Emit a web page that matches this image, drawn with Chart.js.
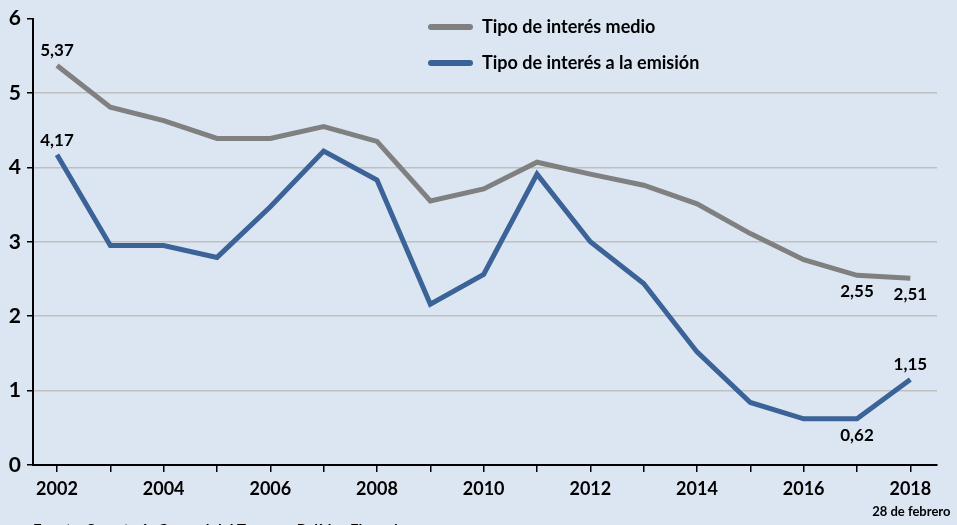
<!DOCTYPE html>
<html>
<head>
<meta charset="utf-8">
<script src="https://cdn.jsdelivr.net/npm/chart.js@4.4.1/dist/chart.umd.min.js"></script>
<style>
  html, body { margin: 0; padding: 0; background: #dce6f2; }
</style>
</head>
<body>
<canvas id="myChart" width="957" height="525"></canvas>
<script>
// data
const years = [2002, 2003, 2004, 2005, 2006, 2007, 2008, 2009, 2010, 2011, 2012, 2013, 2014, 2015, 2016, 2017, 2018]
const tipoMedio = [5.37, 4.81, 4.63, 4.39, 4.39, 4.55, 4.35, 3.55, 3.71, 4.07, 3.91, 3.76, 3.51, 3.11, 2.76, 2.55, 2.51]
const tipoEmision = [4.17, 2.95, 2.95, 2.79, 3.47, 4.22, 3.83, 2.16, 2.56, 3.91, 3.00, 2.44, 1.52, 0.84, 0.62, 0.62, 1.15]
const yTicks = [0, 1, 2, 3, 4, 5, 6]
const xLabelYears = [2002, 2004, 2006, 2008, 2010, 2012, 2014, 2016, 2018]
const seriesNames = ['Tipo de interés medio', 'Tipo de interés a la emisión']
const lastNote = '28 de febrero'
const sourceText = 'Fuente: Secretaría General del Tesoro y Política Financiera.'

// which points carry a value label, and where
const medioLabels = [[0, 'above'], [15, 'below'], [16, 'below']]
const emisionLabels = [[0, 'above'], [15, 'below'], [16, 'above']]

const GREY = 'rgb(128, 128, 128)'
const BLUE = 'rgb(59, 99, 151)'
const FONT = 'Lato, "Open Sans", sans-serif'

Chart.defaults.font.family = FONT
Chart.defaults.color = '#000'

const fmt = (v) => v.toFixed(2).replace('.', ',')

// draws value labels, the legend and the extra texts
const extrasPlugin = {
    id: 'extras',
    afterDatasetsDraw(chart) {
        const ctx = chart.ctx
        ctx.save()
        ctx.fillStyle = '#000'
        ctx.font = 'bold 17px ' + FONT
        ctx.textAlign = 'center'

        const drawLabels = (datasetIndex, list) => {
            const meta = chart.getDatasetMeta(datasetIndex)
            const data = chart.data.datasets[datasetIndex].data
            for (const [i, where] of list) {
                const pt = meta.data[i]
                if (where === 'above') {
                    ctx.textBaseline = 'bottom'
                    ctx.fillText(fmt(data[i].y), pt.x, pt.y - 6)
                } else {
                    ctx.textBaseline = 'top'
                    ctx.fillText(fmt(data[i].y), pt.x, pt.y + 8)
                }
            }
        }
        drawLabels(0, medioLabels)
        drawLabels(1, emisionLabels)

        // legend
        const colors = [GREY, BLUE]
        const rows = [27, 63]
        ctx.font = 'bold 18px ' + FONT
        ctx.textAlign = 'left'
        ctx.textBaseline = 'middle'
        ctx.lineCap = 'round'
        ctx.lineWidth = 6
        for (let i = 0; i < seriesNames.length; i++) {
            ctx.strokeStyle = colors[i]
            ctx.beginPath()
            ctx.moveTo(431, rows[i])
            ctx.lineTo(470, rows[i])
            ctx.stroke()
            ctx.fillText(seriesNames[i], 482, rows[i])
        }

        // note under the last year
        const xScale = chart.scales.x
        ctx.font = 'bold 13px ' + FONT
        ctx.textAlign = 'center'
        ctx.textBaseline = 'top'
        ctx.fillText(lastNote, xScale.getPixelForValue(years[years.length - 1]) + 1, 505)

        // source line, cut by the bottom edge
        ctx.font = 'bold 15px ' + FONT
        ctx.textAlign = 'left'
        ctx.fillText(sourceText, 33, 523)
        ctx.restore()
    }
}

const ctx = document.getElementById('myChart').getContext('2d')
const myChart = new Chart(ctx, {
    type: 'line',
    data: {
        datasets: [{
            label: seriesNames[0],
            data: years.map((y, i) => ({ x: y, y: tipoMedio[i] })),
            borderColor: GREY,
            backgroundColor: GREY,
            borderWidth: 5,
            pointRadius: 0,
            tension: 0,
            order: 1
        }, {
            label: seriesNames[1],
            data: years.map((y, i) => ({ x: y, y: tipoEmision[i] })),
            borderColor: BLUE,
            backgroundColor: BLUE,
            borderWidth: 5,
            pointRadius: 0,
            tension: 0,
            order: 0
        }]
    },
    options: {
        responsive: false,
        animation: false,
        layout: { padding: { top: 15, right: 20, left: 0, bottom: 0 } },
        plugins: {
            legend: { display: false },
            tooltip: { enabled: false }
        },
        scales: {
            x: {
                type: 'linear',
                min: 2001.55,
                max: 2018.5,
                afterBuildTicks: (scale) => {
                    scale.ticks = years.map((v) => ({ value: v }))
                },
                afterFit: (scale) => { scale.height = 60 },
                border: { color: '#000', width: 2 },
                grid: {
                    drawOnChartArea: false,
                    tickColor: '#000',
                    tickLength: 7,
                    lineWidth: 1.5
                },
                ticks: {
                    autoSkip: false,
                    maxRotation: 0,
                    padding: 6,
                    font: { size: 18, weight: 'bold' },
                    callback: (value) => xLabelYears.includes(value) ? String(value) : ''
                }
            },
            y: {
                min: 0,
                max: 6,
                afterBuildTicks: (scale) => {
                    scale.ticks = yTicks.map((v) => ({ value: v }))
                },
                afterFit: (scale) => { scale.width = 33 },
                border: { color: '#000', width: 2 },
                grid: {
                    color: (c) => (c.tick && c.tick.value > 0 && c.tick.value < 6) ? 'rgb(191, 191, 191)' : 'rgba(0,0,0,0)',
                    lineWidth: 1.5,
                    tickColor: '#000',
                    tickLength: 6
                },
                ticks: {
                    padding: 6,
                    font: { size: 21, weight: 'bold' },
                    callback: (value) => String(value)
                }
            }
        }
    },
    plugins: [extrasPlugin]
})
</script>
</body>
</html>
